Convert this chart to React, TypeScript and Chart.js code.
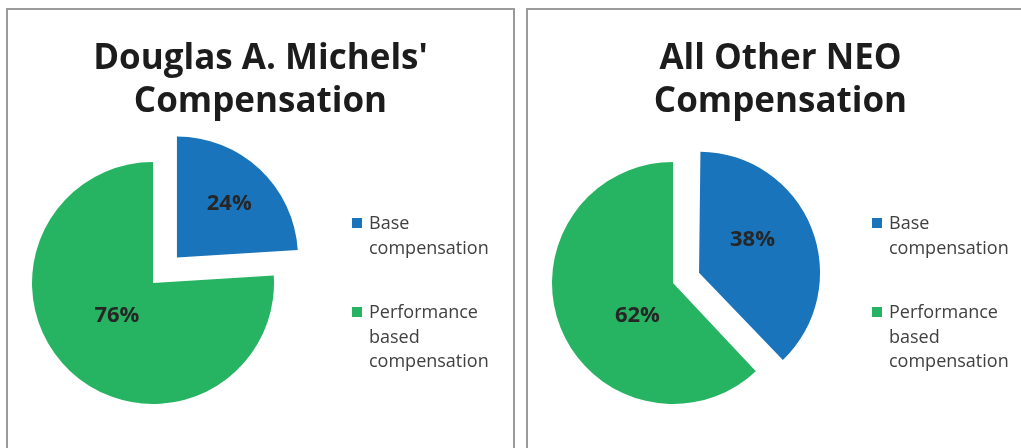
import React, { useEffect, useRef } from "react";
import { Chart, registerables } from "chart.js";

Chart.register(...registerables);

const categories = ["Base compensation", "Performance based compensation"];
const legendLines = [["Base", "compensation"], ["Performance", "based", "compensation"]];
const michelsTitle = ["Douglas A. Michels'", "Compensation"];
const michelsValues = [24, 76];
const neoTitle = ["All Other NEO", "Compensation"];
const neoValues = [38, 62];
const sliceColors = ["#1a74bb", "#26b462"];

const FONT = "'Open Sans', 'DejaVu Sans', sans-serif";

const panelPlugin = {
  id: "panelText",
  afterDatasetUpdate(chart: any, args: any) {
    // Chart.js enlarges an offset arc by offset/4*(1-sin(circ)); undo that so all slices share one radius
    for (const el of args.meta.data) {
      const off = ((el.options && el.options.offset) || 0) / 4;
      const fix = 1 - Math.sin(Math.min(Math.PI, el.circumference || 0));
      el.outerRadius = el.outerRadius - off * fix;
    }
  },
  afterDraw(chart: any, _args: any, opts: any) {
    const ctx = chart.ctx;
    ctx.save();
    // title
    ctx.fillStyle = "#1c1c1c";
    ctx.font = `bold 35px ${FONT}`;
    ctx.textAlign = "center";
    ctx.textBaseline = "alphabetic";
    opts.title.forEach((line: string, i: number) => {
      ctx.fillText(line, chart.width / 2, 59 + i * 43);
    });
    // value labels
    const meta = chart.getDatasetMeta(0);
    const data = chart.data.datasets[0].data;
    ctx.font = `bold 22px ${FONT}`;
    ctx.fillStyle = "#262626";
    ctx.textBaseline = "middle";
    meta.data.forEach((el: any, i: number) => {
      const mid = (el.startAngle + el.endAngle) / 2;
      const t = ((el.options && el.options.offset) || 0) / 4;
      const tx = el.x + Math.cos(mid) * t;
      const ty = el.y + Math.sin(mid) * t;
      const a = mid + (opts.labelShift[i] * Math.PI) / 180;
      const d = opts.labelRadius[i] * el.outerRadius;
      ctx.fillText(data[i] + "%", tx + Math.cos(a) * d, ty + Math.sin(a) * d);
    });
    // legend
    const lx = chart.chartArea.left + 329;
    let ly = 208;
    ctx.font = `18px ${FONT}`;
    ctx.textAlign = "left";
    ctx.textBaseline = "alphabetic";
    legendLines.forEach((lines, i) => {
      ctx.fillStyle = sliceColors[i];
      ctx.fillRect(lx, ly, 10, 10);
      ctx.fillStyle = "#404040";
      lines.forEach((line, j) => {
        ctx.fillText(line, lx + 17, ly + 11 + j * 24.5);
      });
      ly += 89;
    });
    ctx.restore();
  },
};

function PiePanel({ left, title, values, explode, labelRadius, labelShift }: any) {
  const ref = useRef<HTMLCanvasElement>(null);
  useEffect(() => {
    const chart = new Chart(ref.current as HTMLCanvasElement, {
      type: "pie",
      data: {
        labels: categories,
        datasets: [
          {
            data: values,
            backgroundColor: sliceColors,
            borderWidth: 0,
            offset: explode,
            hoverOffset: 0,
            radius: 121,
          } as any,
        ],
      },
      options: {
        responsive: false,
        animation: false,
        events: [],
        layout: { padding: { left: 15, right: 230, top: 143, bottom: 37 } },
        plugins: {
          legend: { display: false },
          tooltip: { enabled: false },
          title: { display: false },
          panelText: { title, labelRadius, labelShift },
        } as any,
      },
      plugins: [panelPlugin as any],
    });
    if ((document as any).fonts && (document as any).fonts.load) {
      Promise.all([
        (document as any).fonts.load(`bold 35px "Open Sans"`),
        (document as any).fonts.load(`18px "Open Sans"`),
      ]).then(() => chart.draw()).catch(() => {});
    }
    return () => chart.destroy();
  }, []);
  return (
    <div
      style={{
        position: "absolute",
        left,
        top: 8,
        width: 509,
        height: 470,
        boxSizing: "border-box",
        border: "2px solid #9a9a9a",
        overflow: "hidden",
        background: "#fff",
      }}
    >
      <canvas
        ref={ref}
        width={505}
        height={440}
        style={{ position: "absolute", left: 0, top: 0, width: 505, height: 440 }}
      />
    </div>
  );
}

export default function App() {
  return (
    <div
      style={{
        position: "fixed",
        left: 0,
        top: 0,
        width: 1021,
        height: 448,
        overflow: "hidden",
        background: "#fff",
      }}
    >
      <PiePanel
        left={6}
        title={michelsTitle}
        values={michelsValues}
        explode={[140, 0]}
        labelRadius={[0.62, 0.4]}
        labelShift={[1, 5]}
      />
      <PiePanel
        left={526}
        title={neoTitle}
        values={neoValues}
        explode={[112, 0]}
        labelRadius={[0.56, 0.4]}
        labelShift={[-10, -21]}
      />
    </div>
  );
}
